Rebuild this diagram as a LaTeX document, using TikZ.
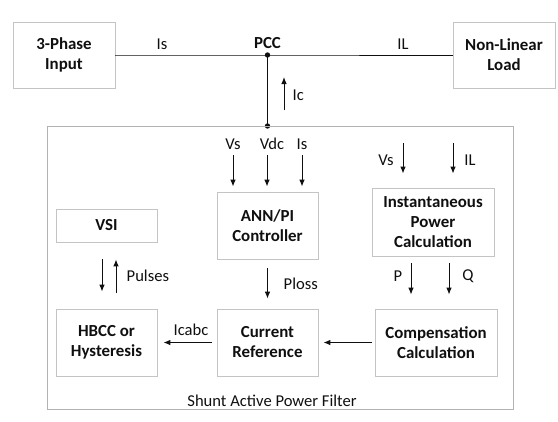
\documentclass[tikz,border=0pt]{standalone}
\usepackage{fontspec}
\setmainfont{Carlito}
\usetikzlibrary{arrows.meta}
\definecolor{boxc}{RGB}{196,196,196}
\definecolor{framec}{RGB}{178,178,178}
\definecolor{inkc}{RGB}{15,15,15}

\begin{document}
\begin{tikzpicture}[x=0.025cm, y=-0.025cm, >={Latex[length=5pt,width=4pt]},
    font=\fontsize{11.8}{14}\selectfont, line cap=butt,
    blk/.style 2 args={draw=boxc, line width=0.6pt, align=center, inner sep=0pt,
      minimum width=#1*0.025cm, minimum height=#2*0.025cm,
      font=\fontsize{12}{14.2}\selectfont\bfseries, text=inkc},
    lbl/.style={inner sep=1pt, text=inkc},
    sig/.style={->, inkc, line width=0.7pt}]
  \def\u{0.025cm}
  % page
  \path[use as bounding box] (0,0) rectangle (558,421);

  % grid side
  \node[blk={102}{66}] (inp) at (64,55) {3-Phase\\Input};
  \node[blk={102}{66}] (load) at (504,55) {Non-Linear\\Load};
  \coordinate (pcc) at (267.5,55);
  \coordinate (pccb) at (267.5,126);
  \draw[inkc, line width=0.7pt] (inp.east) -- (pcc) -- (load.west);
  \draw[inkc, line width=0.7pt] (pcc) -- (pccb);
  \fill[inkc] (pcc) circle (1.9pt) (pccb) circle (1.9pt);
  \node[lbl, font=\fontsize{12}{14}\selectfont\bfseries] (pcclbl) at (267.5,43) {PCC};
  \node[lbl] (islbl) at (162,44) {Is};
  \node[lbl] (illbl) at (403,44) {IL};
  \coordinate (icin) at (284,110);
  \coordinate (icout) at (284,77);
  \draw[sig] (icin) -- (icout);
  \node[lbl, anchor=west] (iclbl) at (291,95) {Ic};

  % shunt active power filter frame
  \draw[framec, line width=0.6pt] (47.5,126) rectangle (513,409);
  \node[lbl] (sapf) at (272,401) {Shunt Active Power Filter};

  % blocks
  \node[blk={101}{33}] (vsi) at (106.5,225.5) {VSI};
  \node[blk={101}{67}] (ann) at (267.5,225.5) {ANN/PI\\Controller};
  \node[blk={122}{68}] (inst) at (433,222) {Instantaneous\\Power\\Calculation};
  \node[blk={101}{67}] (hbcc) at (106.5,342.5) {HBCC or\\Hysteresis};
  \node[blk={101}{67}] (cref) at (267.5,342.5) {Current\\Reference};
  \node[blk={122}{67}] (comp) at (436,342.5) {Compensation\\Calculation};

  % controller inputs
  \node[lbl] (vslbl) at (233,144) {Vs};
  \node[lbl] (vdclbl) at (272,144) {Vdc};
  \node[lbl] (isinlbl) at (302,144) {Is};
  \foreach \xa/\nm in {233/vsin, 267/vdcin, 302/isin}{
    \coordinate (\nm) at (\xa,155);
    \draw[sig, shorten >=5*\u] (\nm) -- (\nm |- ann.north);
  }

  % power calculation inputs
  \coordinate (vsp) at (403,143);
  \coordinate (ilp) at (453,143);
  \draw[sig, shorten >=14*\u] (vsp) -- (vsp |- inst.north);
  \draw[sig, shorten >=14*\u] (ilp) -- (ilp |- inst.north);
  \node[lbl] (vsplbl) at (386,160) {Vs};
  \node[lbl] (ilplbl) at (470,160) {IL};

  % p and q
  \coordinate (pout) at (411,263);
  \coordinate (qout) at (449,263);
  \draw[sig, shorten >=14*\u] (pout) -- (pout |- comp.north);
  \draw[sig, shorten >=14*\u] (qout) -- (qout |- comp.north);
  \node[lbl] (plbl) at (398,276) {P};
  \node[lbl] (qlbl) at (468,276) {Q};

  % ploss
  \draw[sig, shorten <=9*\u, shorten >=10*\u] (ann.south) -- (cref.north);
  \node[lbl, anchor=west] (plosslbl) at (282,284) {Ploss};

  % pulses
  \coordinate (pdn) at (102,259);
  \coordinate (pup) at (116,293);
  \draw[sig, shorten >=17*\u] (pdn) -- (pdn |- hbcc.north);
  \draw[sig, shorten >=17*\u] (pup) -- (pup |- vsi.south);
  \node[lbl, anchor=west] (pullbl) at (125,276) {Pulses};

  % reference chain
  \draw[sig, shorten <=3*\u, shorten >=5*\u] (comp.west) -- (cref.east);
  \draw[sig, shorten <=5*\u, shorten >=6*\u] (cref.west) -- (hbcc.east);
  \node[lbl] (icabclbl) at (191,330) {Icabc};
\end{tikzpicture}
\end{document}
